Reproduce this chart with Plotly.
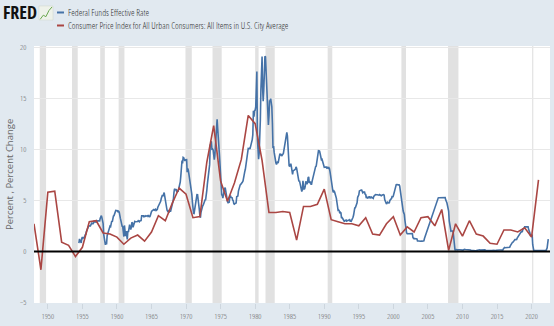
import pandas as pd
import plotly.graph_objects as go

# Federal Funds Effective Rate, monthly, percent (from 1954-07)
fedfunds = [
    0.80, 1.22, 1.07, 0.85, 0.83, 1.28,
    1.39, 1.29, 1.35, 1.43, 1.43, 1.64, 1.68, 1.96, 2.18, 2.24, 2.35, 2.48,
    2.45, 2.50, 2.50, 2.62, 2.75, 2.71, 2.75, 2.73, 2.95, 2.96, 2.88, 2.94,
    2.84, 3.00, 2.96, 3.00, 3.00, 3.00, 2.99, 3.24, 3.47, 3.50, 3.28, 2.98,
    2.72, 1.67, 1.20, 1.26, 0.63, 0.93, 0.68, 1.53, 1.76, 1.80, 2.27, 2.42,
    2.48, 2.43, 2.80, 2.96, 2.90, 3.39, 3.47, 3.50, 3.76, 3.98, 4.00, 3.99,
    3.99, 3.97, 3.84, 3.92, 3.85, 3.32, 3.23, 2.98, 2.60, 2.47, 2.44, 1.98,
    1.45, 2.54, 2.02, 1.49, 1.98, 1.73, 1.17, 2.00, 1.88, 2.26, 2.62, 2.33,
    2.15, 2.37, 2.85, 2.78, 2.36, 2.68, 2.71, 2.93, 2.90, 2.90, 2.94, 2.93,
    2.92, 3.00, 2.98, 2.90, 3.00, 2.99, 3.02, 3.49, 3.48, 3.50, 3.48, 3.38,
    3.48, 3.48, 3.43, 3.47, 3.50, 3.50, 3.42, 3.50, 3.45, 3.36, 3.52, 3.85,
    3.90, 3.98, 4.04, 4.09, 4.10, 4.04, 4.09, 4.12, 4.01, 4.08, 4.10, 4.32,
    4.42, 4.60, 4.65, 4.67, 4.90, 5.17, 5.30, 5.53, 5.40, 5.53, 5.76, 5.40,
    4.94, 5.00, 4.53, 4.05, 3.94, 3.98, 3.79, 3.90, 3.99, 3.88, 4.13, 4.51,
    4.60, 4.71, 5.05, 5.76, 6.12, 6.07, 6.02, 6.03, 5.78, 5.91, 5.82, 6.02,
    6.30, 6.61, 6.79, 7.41, 8.67, 8.90, 8.61, 9.19, 9.15, 9.00, 8.85, 8.97,
    8.98, 8.98, 7.76, 8.10, 7.95, 7.61, 7.21, 6.61, 6.29, 6.20, 5.60, 4.90,
    4.14, 3.72, 3.71, 4.15, 4.63, 4.91, 5.31, 5.56, 5.55, 5.20, 4.91, 4.14,
    3.50, 3.29, 3.83, 4.17, 4.27, 4.46, 4.55, 4.80, 4.87, 5.04, 5.06, 5.33,
    5.94, 6.58, 7.09, 7.12, 7.84, 8.49, 10.40, 10.50, 10.78, 10.01, 10.03, 9.95,
    9.65, 8.97, 9.35, 10.51, 11.31, 11.93, 12.92, 12.01, 11.34, 10.06, 9.45, 8.53,
    7.13, 6.24, 5.54, 5.49, 5.22, 5.55, 6.10, 6.14, 6.24, 5.82, 5.22, 5.20,
    4.87, 4.77, 4.84, 4.82, 5.29, 5.48, 5.31, 5.29, 5.25, 5.02, 4.95, 4.65,
    4.61, 4.68, 4.69, 4.73, 5.35, 5.39, 5.42, 5.90, 6.14, 6.47, 6.51, 6.56,
    6.70, 6.78, 6.79, 6.89, 7.36, 7.60, 7.81, 8.04, 8.45, 8.96, 9.76, 10.03,
    10.07, 10.06, 10.09, 10.01, 10.24, 10.29, 10.47, 10.94, 11.43, 13.77, 13.18, 13.78,
    13.82, 14.13, 17.19, 17.61, 10.98, 9.47, 9.03, 9.61, 10.87, 12.81, 15.85, 18.90,
    19.08, 15.93, 14.70, 15.72, 18.52, 19.10, 19.04, 17.82, 15.87, 15.08, 13.31, 12.37,
    13.22, 14.78, 14.68, 14.94, 14.45, 14.15, 12.59, 10.12, 10.31, 9.71, 9.20, 8.95,
    8.68, 8.51, 8.77, 8.80, 8.63, 8.98, 9.37, 9.56, 9.45, 9.48, 9.34, 9.47,
    9.56, 9.59, 9.91, 10.29, 10.32, 11.06, 11.23, 11.64, 11.30, 9.99, 9.43, 8.38,
    8.35, 8.50, 8.58, 8.27, 7.97, 7.53, 7.88, 7.90, 7.92, 7.99, 8.05, 8.27,
    8.14, 7.86, 7.48, 6.99, 6.85, 6.92, 6.56, 6.17, 5.89, 5.85, 6.04, 6.91,
    6.43, 6.10, 6.13, 6.37, 6.85, 6.73, 6.58, 6.73, 7.22, 7.29, 6.69, 6.77,
    6.83, 6.58, 6.58, 6.87, 7.09, 7.51, 7.75, 8.01, 8.19, 8.30, 8.35, 8.76,
    9.12, 9.36, 9.85, 9.84, 9.81, 9.53, 9.24, 8.99, 9.02, 8.84, 8.55, 8.45,
    8.23, 8.24, 8.28, 8.26, 8.18, 8.29, 8.15, 8.13, 8.20, 8.11, 7.81, 7.31,
    6.91, 6.25, 6.12, 5.91, 5.78, 5.90, 5.82, 5.66, 5.45, 5.21, 4.81, 4.43,
    4.03, 4.06, 3.98, 3.73, 3.82, 3.76, 3.25, 3.30, 3.22, 3.10, 3.09, 2.92,
    3.02, 3.03, 3.07, 2.96, 3.00, 3.04, 3.06, 3.03, 3.09, 2.99, 3.02, 2.96,
    3.05, 3.25, 3.34, 3.56, 4.01, 4.25, 4.26, 4.47, 4.73, 4.76, 5.29, 5.45,
    5.53, 5.92, 5.98, 6.05, 6.01, 6.00, 5.85, 5.74, 5.80, 5.76, 5.80, 5.60,
    5.56, 5.22, 5.31, 5.22, 5.24, 5.27, 5.40, 5.22, 5.30, 5.24, 5.31, 5.29,
    5.25, 5.19, 5.39, 5.51, 5.50, 5.56, 5.52, 5.54, 5.54, 5.50, 5.52, 5.50,
    5.56, 5.51, 5.49, 5.45, 5.49, 5.56, 5.54, 5.55, 5.51, 5.07, 4.83, 4.68,
    4.63, 4.76, 4.81, 4.74, 4.74, 4.76, 4.99, 5.07, 5.22, 5.20, 5.42, 5.30,
    5.45, 5.73, 5.85, 6.02, 6.27, 6.53, 6.54, 6.50, 6.52, 6.51, 6.51, 6.40,
    5.98, 5.49, 5.31, 4.80, 4.21, 3.97, 3.77, 3.65, 3.07, 2.49, 2.09, 1.82,
    1.73, 1.74, 1.73, 1.75, 1.75, 1.75, 1.73, 1.74, 1.75, 1.75, 1.34, 1.24,
    1.24, 1.26, 1.25, 1.26, 1.26, 1.22, 1.01, 1.03, 1.01, 1.01, 1.00, 0.98,
    1.00, 1.01, 1.00, 1.00, 1.00, 1.03, 1.26, 1.43, 1.61, 1.76, 1.93, 2.16,
    2.28, 2.50, 2.63, 2.79, 3.00, 3.04, 3.26, 3.50, 3.62, 3.78, 4.00, 4.16,
    4.29, 4.49, 4.59, 4.79, 4.94, 4.99, 5.24, 5.25, 5.25, 5.25, 5.25, 5.24,
    5.25, 5.26, 5.26, 5.25, 5.25, 5.25, 5.26, 5.02, 4.94, 4.76, 4.49, 4.24,
    3.94, 2.98, 2.61, 2.28, 1.98, 2.00, 2.01, 2.00, 1.81, 0.97, 0.39, 0.16,
    0.15, 0.22, 0.18, 0.15, 0.18, 0.21, 0.16, 0.16, 0.15, 0.12, 0.12, 0.12,
    0.11, 0.13, 0.16, 0.20, 0.20, 0.18, 0.18, 0.19, 0.19, 0.19, 0.19, 0.18,
    0.17, 0.16, 0.14, 0.10, 0.09, 0.09, 0.07, 0.10, 0.08, 0.07, 0.08, 0.07,
    0.08, 0.10, 0.13, 0.14, 0.16, 0.16, 0.16, 0.13, 0.14, 0.16, 0.16, 0.16,
    0.14, 0.15, 0.14, 0.15, 0.11, 0.09, 0.09, 0.08, 0.08, 0.09, 0.08, 0.09,
    0.07, 0.07, 0.08, 0.09, 0.09, 0.10, 0.09, 0.09, 0.09, 0.09, 0.09, 0.12,
    0.11, 0.11, 0.11, 0.12, 0.12, 0.13, 0.13, 0.14, 0.14, 0.12, 0.12, 0.24,
    0.34, 0.38, 0.36, 0.37, 0.37, 0.38, 0.39, 0.40, 0.40, 0.40, 0.41, 0.54,
    0.65, 0.66, 0.79, 0.90, 0.91, 1.04, 1.15, 1.16, 1.15, 1.15, 1.16, 1.30,
    1.41, 1.42, 1.51, 1.69, 1.70, 1.82, 1.91, 1.91, 1.95, 2.19, 2.20, 2.27,
    2.40, 2.40, 2.41, 2.42, 2.39, 2.38, 2.40, 2.13, 2.04, 1.83, 1.55, 1.55,
    1.55, 1.58, 0.65, 0.05, 0.05, 0.08, 0.09, 0.10, 0.09, 0.09, 0.09, 0.09,
    0.09, 0.08, 0.07, 0.07, 0.06, 0.08, 0.10, 0.09, 0.08, 0.08, 0.08, 0.08,
    0.08, 0.08, 0.20, 0.33, 0.77, 1.21,
]
fedfunds_dates = pd.date_range("1954-07-01", periods=len(fedfunds), freq="MS")

# CPI-U, annual percent change (December over December)
cpi_years = list(range(1948, 2022))
cpi_change = [
    2.7, -1.8, 5.8, 5.9, 0.9, 0.6, -0.5, 0.4, 2.9, 3.0,
    1.8, 1.7, 1.4, 0.7, 1.3, 1.6, 1.0, 1.9, 3.5, 3.0,
    4.7, 6.2, 5.6, 3.3, 3.4, 8.7, 12.3, 6.9, 4.9, 6.7,
    9.0, 13.3, 12.5, 8.9, 3.8, 3.8, 3.9, 3.8, 1.1, 4.4,
    4.4, 4.6, 6.1, 3.1, 2.9, 2.7, 2.7, 2.5, 3.3, 1.7,
    1.6, 2.7, 3.4, 1.6, 2.4, 1.9, 3.3, 3.4, 2.5, 4.1,
    0.1, 2.7, 1.5, 3.0, 1.7, 1.5, 0.8, 0.7, 2.1, 2.1,
    1.9, 2.3, 1.4, 7.0,
]
cpi_dates = [f"{y}-01-01" for y in cpi_years]

# NBER recession periods (peak month, trough month)
recession_start = ["1948-11-01", "1953-07-01", "1957-08-01", "1960-04-01",
                   "1969-12-01", "1973-11-01", "1980-01-01", "1981-07-01",
                   "1990-07-01", "2001-03-01", "2007-12-01", "2020-02-01"]
recession_end = ["1949-10-01", "1954-05-01", "1958-04-01", "1961-02-01",
                 "1970-11-01", "1975-03-01", "1980-07-01", "1982-11-01",
                 "1991-03-01", "2001-11-01", "2009-06-01", "2020-04-01"]

series_names = ["Federal Funds Effective Rate",
                "Consumer Price Index for All Urban Consumers: All Items in U.S. City Average"]
x_tick_years = list(range(1950, 2021, 5))
y_ticks = [-5, 0, 5, 10, 15, 20]

BLUE = "#4572a7"
RED = "#aa4643"
BG = "#e1e9f0"
TXT = "#666666"
COND = "Open Sans Condensed Light"

fig = go.Figure()

fig.add_trace(go.Scatter(
    x=fedfunds_dates, y=fedfunds, mode="lines", name=series_names[0],
    line=dict(color=BLUE, width=1.6), showlegend=False,
))
fig.add_trace(go.Scatter(
    x=cpi_dates, y=cpi_change, mode="lines", name=series_names[1],
    line=dict(color=RED, width=1.6), showlegend=False,
))

shapes = []
for s, e in zip(recession_start, recession_end):
    shapes.append(dict(type="rect", xref="x", yref="paper", x0=s, x1=e,
                       y0=0, y1=1, fillcolor="#e1e1e1", line=dict(width=0),
                       layer="below"))
# zero reference line
shapes.append(dict(type="line", xref="paper", yref="y", x0=0, x1=1, y0=0, y1=0,
                   line=dict(color="#000000", width=2), layer="above"))
# legend swatches
for yy, col in ((1.1304, BLUE), (1.0798, RED)):
    shapes.append(dict(type="line", xref="paper", yref="paper",
                       x0=0.0446, x1=0.0581, y0=yy, y1=yy,
                       line=dict(color=col, width=2)))
# small chart glyph beside the logo
shapes.append(dict(type="rect", xref="paper", yref="paper",
                   x0=0.0097, x1=0.0368, y0=1.101, y1=1.156,
                   fillcolor="#eef2ea", line=dict(color="#cfd6cc", width=0.5)))
shapes.append(dict(type="path", xref="paper", yref="paper",
                   path="M 0.012 1.104 L 0.018 1.120 L 0.023 1.114 L 0.029 1.138 L 0.035 1.152",
                   line=dict(color="#6aa84f", width=1)))

annotations = [
    dict(text="FRED", xref="paper", yref="paper", x=-0.064, y=1.1335,
         xanchor="left", yanchor="middle", showarrow=False,
         font=dict(family="Open Sans Condensed", size=18, color="#111111", weight=700)),
    dict(text=series_names[0], xref="paper", yref="paper",
         x=0.062, y=1.1304, xanchor="left", yanchor="middle", showarrow=False,
         font=dict(family=COND, size=9, color="#333333")),
    dict(text=series_names[1], xref="paper", yref="paper",
         x=0.062, y=1.0798, xanchor="left", yanchor="middle", showarrow=False,
         font=dict(family=COND, size=9, color="#333333")),
    dict(text="Percent , Percent Change", xref="paper", yref="paper",
         x=-0.0484, y=0.498, xanchor="center", yanchor="middle", textangle=-90,
         showarrow=False, font=dict(family="Open Sans", size=9.5, color=TXT)),
]

fig.update_layout(
    width=554, height=326,
    margin=dict(l=34, r=4, t=46, b=23),
    paper_bgcolor=BG, plot_bgcolor="#ffffff",
    shapes=shapes, annotations=annotations,
    font=dict(family=COND, size=8, color=TXT),
    xaxis=dict(
        type="date", range=["1948-01-01", "2022-09-01"],
        tickvals=[f"{y}-01-01" for y in x_tick_years],
        ticktext=[str(y) for y in x_tick_years],
        showgrid=False, zeroline=False, showline=False,
        ticks="outside", ticklen=5, tickcolor="#cdd6de",
        tickfont=dict(family=COND, size=8, color=TXT),
    ),
    yaxis=dict(
        range=[-5.05, 20.1], tickvals=y_ticks,
        showgrid=True, gridcolor="#e8e8e8", gridwidth=1,
        zeroline=False, showline=False,
        ticks="outside", ticklen=5, tickcolor="rgba(0,0,0,0)",
        tickfont=dict(family=COND, size=8, color=TXT),
    ),
)

fig.write_html("out.html")
